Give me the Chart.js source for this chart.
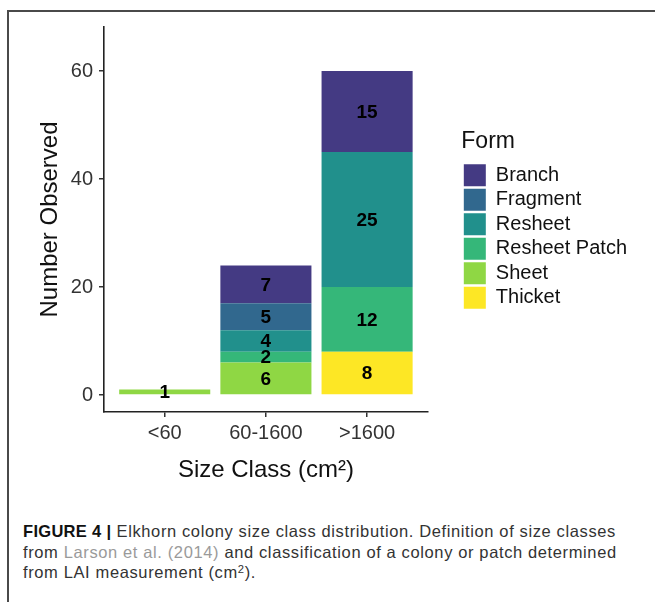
<!DOCTYPE html>
<html>
<head>
<meta charset="utf-8">
<script src="https://cdn.jsdelivr.net/npm/chart.js@4"></script>
<style>
  html, body { margin: 0; padding: 0; background: #fff; }
  body { width: 655px; height: 602px; position: relative; overflow: hidden; font-family: "Liberation Sans", Arial, sans-serif; }
  #chartBox { position: absolute; left: 0; top: 0; width: 655px; height: 500px; }
  .frameTop { position: absolute; left: 7px; top: 10px; width: 648px; height: 2px; background: #4a4a4a; }
  .frameLeft { position: absolute; left: 7px; top: 10px; width: 2px; height: 592px; background: #4a4a4a; }
  #caption { position: absolute; left: 23px; top: 521px; font-size: 16.5px; line-height: 20.5px; letter-spacing: 0.62px; color: #333; white-space: nowrap; }
  #caption b { color: #111; letter-spacing: 0.3px; }
  #caption .ref { color: #9a9a9a; }
  #caption sup { font-size: 0.68em; line-height: 0; vertical-align: 0.45em; }
</style>
</head>
<body>
<div class="frameTop"></div>
<div class="frameLeft"></div>
<div id="chartBox"><canvas id="formChart" width="655" height="500"></canvas></div>
<div id="caption"><b>FIGURE 4 |</b> Elkhorn colony size class distribution. Definition of size classes<br>from <span class="ref">Larson et al. (2014)</span> and classification of a colony or patch determined<br>from LAI measurement (cm<sup>2</sup>).</div>

<script>
// size classes (x categories)
const sizeClasses = ['<60', '60-1600', '>1600'];

// counts per form, one value per size class
const branch = [0, 7, 15];
const fragment = [0, 5, 0];
const resheet = [0, 4, 25];
const resheetPatch = [0, 2, 12];
const sheet = [1, 6, 0];
const thicket = [0, 0, 8];

const yTicks = [0, 20, 40, 60];

// stacked bottom -> top (legend is shown reversed)
const forms = ['Thicket', 'Sheet', 'Resheet Patch', 'Resheet', 'Fragment', 'Branch'];
const formCounts = [thicket, sheet, resheetPatch, resheet, fragment, branch];
const formColors = ['#FDE725', '#8FD744', '#35B779', '#21908C', '#31688E', '#443A83'];

// valeurs au milieu de chaque segment
const segmentLabels = {
  id: 'segmentLabels',
  afterDatasetsDraw(chart) {
    const ctx = chart.ctx;
    ctx.save();
    ctx.font = 'bold 19px "Liberation Sans", Arial, sans-serif';
    ctx.fillStyle = '#000';
    ctx.textAlign = 'center';
    ctx.textBaseline = 'middle';
    chart.data.datasets.forEach((ds, i) => {
      const meta = chart.getDatasetMeta(i);
      meta.data.forEach((bar, j) => {
        const v = ds.data[j].y;
        if (!v) return;
        ctx.fillText(String(v), bar.x, (bar.y + bar.base) / 2 + 1);
      });
    });
    ctx.restore();
  }
};

const tickFont = { family: '"Liberation Sans", Arial, sans-serif', size: 20 };
const titleFont = { family: '"Liberation Sans", Arial, sans-serif', size: 24 };

new Chart(document.getElementById('formChart'), {
  type: 'bar',
  data: {
    datasets: forms.map((f, i) => ({
      label: f,
      data: formCounts[i].map((v, j) => ({ x: j, y: v })),
      backgroundColor: formColors[i],
      borderWidth: 0,
      categoryPercentage: 0.9,
      barPercentage: 1.0
    }))
  },
  options: {
    responsive: false,
    animation: false,
    layout: { padding: { top: 27, left: 0, right: 18, bottom: 0 } },
    scales: {
      x: {
        type: 'linear',
        stacked: true,
        offset: false,
        min: -0.6,
        max: 2.6,
        afterBuildTicks: (scale) => { scale.ticks = sizeClasses.map((c, i) => ({ value: i })); },
        afterFit: (scale) => { scale.height = 88; },
        ticks: {
          callback: (v) => sizeClasses[v],
          font: tickFont,
          color: '#333',
          padding: 4,
          maxRotation: 0,
          autoSkip: false
        },
        grid: { display: true, offset: false, drawOnChartArea: false, drawTicks: true, tickLength: 5, color: '#333', lineWidth: 1.5 },
        border: { display: true, color: '#222', width: 1.6 },
        title: { display: true, text: 'Size Class (cm²)', font: titleFont, color: '#111', padding: { top: 0, bottom: 15.6 } }
      },
      y: {
        stacked: true,
        min: -3.15,
        max: 68.15,
        afterBuildTicks: (scale) => { scale.ticks = yTicks.map(v => ({ value: v })); },
        afterFit: (scale) => { scale.width = 104; },
        ticks: { font: tickFont, color: '#333', padding: 6 },
        grid: { display: true, drawOnChartArea: false, drawTicks: true, tickLength: 5, color: '#333', lineWidth: 1.5 },
        border: { display: true, color: '#222', width: 1.6 },
        title: { display: true, text: 'Number Observed', font: titleFont, color: '#111', padding: { top: 35.6, bottom: 0 } }
      },
      // empty spacer between the panel and the legend
      gap: {
        type: 'linear',
        position: 'right',
        display: true,
        grid: { display: false },
        border: { display: false },
        ticks: { display: false },
        afterFit: (scale) => { scale.width = 33.5; }
      }
    },
    plugins: {
      tooltip: { enabled: false },
      legend: {
        position: 'right',
        align: 'center',
        fullSize: false,
        reverse: true,
        maxWidth: 260,
        title: {
          display: true,
          text: 'Form',
          position: 'start',
          color: '#111',
          font: { family: '"Liberation Sans", Arial, sans-serif', size: 23 },
          padding: { top: 2.3, bottom: 4.2 }
        },
        labels: {
          boxWidth: 22,
          boxHeight: 22,
          padding: 2.5,
          color: '#111',
          font: { family: '"Liberation Sans", Arial, sans-serif', size: 20 }
        }
      }
    }
  },
  plugins: [segmentLabels]
});
</script>
</body>
</html>
